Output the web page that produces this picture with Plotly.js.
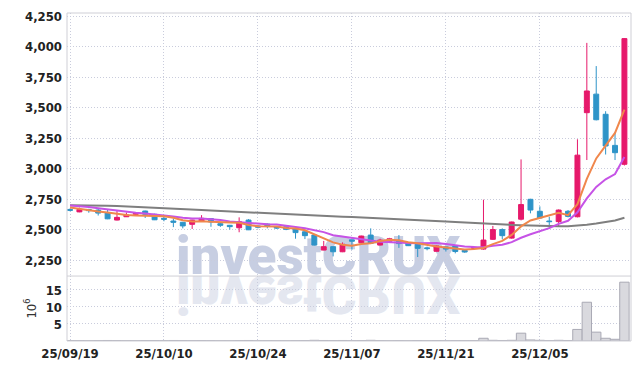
<!DOCTYPE html>
<html><head><meta charset="utf-8">
<script src="https://cdn.plot.ly/plotly-3.0.1.min.js"></script>
<style>html,body{margin:0;padding:0;background:#fff;} #chart{width:639px;height:370px;}</style>
</head><body><div id="chart"></div>
<script>
const dates = ["25/09/19","25/09/22","25/09/23","25/09/24","25/09/25","25/09/26","25/09/29","25/09/30","25/10/01","25/10/02",
"25/10/10","25/10/13","25/10/14","25/10/15","25/10/16","25/10/17","25/10/20","25/10/21","25/10/22","25/10/23",
"25/10/24","25/10/27","25/10/28","25/10/29","25/10/30","25/10/31","25/11/03","25/11/04","25/11/05","25/11/06",
"25/11/07","25/11/10","25/11/11","25/11/12","25/11/13","25/11/14","25/11/17","25/11/18","25/11/19","25/11/20",
"25/11/21","25/11/24","25/11/25","25/11/26","25/11/27","25/11/28","25/12/01","25/12/02","25/12/03","25/12/04",
"25/12/05","25/12/08","25/12/09","25/12/10","25/12/11","25/12/12","25/12/15","25/12/16","25/12/17","25/12/18"];

const openP = [2665,2645,2665,2660,2640,2578,2605,2625,2652,2625,
2592,2570,2560,2543,2568,2590,2548,2535,2515,2578,
2530,2545,2523,2523,2505,2482,2455,2332,2360,2318,
2416,2392,2455,2373,2405,2405,2390,2379,2350,2322,
2358,2366,2330,2345,2340,2420,2500,2430,2585,2748,
2650,2570,2565,2650,2605,3458,3610,3445,3190,3035];
const highP = [2672,2680,2670,2670,2665,2655,2640,2640,2655,2630,
2620,2590,2562,2580,2618,2592,2558,2538,2600,2586,
2535,2550,2528,2525,2510,2500,2460,2407,2362,2395,
2420,2450,2510,2425,2432,2455,2392,2382,2360,2370,
2362,2370,2335,2360,2745,2530,2510,2565,3075,2752,
2690,2605,2665,2660,3240,4030,3840,3470,3300,4070];
const lowP = [2650,2642,2638,2615,2585,2575,2603,2620,2595,2578,
2568,2520,2510,2505,2565,2523,2522,2500,2478,2496,
2510,2510,2505,2495,2425,2422,2370,2330,2280,2315,
2335,2390,2383,2370,2400,2350,2365,2275,2330,2320,
2320,2305,2310,2342,2335,2415,2420,2425,2575,2633,
2590,2510,2525,2600,2600,3070,3395,3115,3070,3025];
const closeP = [2658,2665,2655,2635,2588,2600,2620,2635,2625,2580,
2585,2560,2530,2578,2592,2562,2535,2524,2565,2498,
2520,2530,2512,2502,2475,2450,2373,2360,2318,2380,
2405,2447,2387,2414,2425,2385,2368,2346,2344,2366,
2340,2320,2316,2356,2414,2500,2450,2562,2705,2660,
2595,2565,2660,2608,3110,3636,3400,3185,3130,4065];

const ma5 = [2680,2668,2660,2648,2640,2629,2620,2616,2614,2612,
2609,2597,2576,2567,2569,2564,2559,2558,2556,2537,
2528,2527,2525,2512,2508,2494,2462,2432,2395,2376,
2367,2382,2387,2407,2416,2412,2396,2388,2374,2362,
2353,2343,2337,2340,2349,2381,2407,2456,2526,2575,
2594,2617,2637,2618,2708,2916,3083,3188,3292,3483];
const ma10 = [2697,2692,2685,2675,2665,2655,2645,2638,2632,2626,
2619,2608,2596,2590,2591,2587,2578,2567,2561,2553,
2546,2543,2542,2534,2522,2511,2495,2479,2454,2442,
2431,2422,2410,2401,2396,2389,2389,2388,2390,2389,
2382,2370,2362,2357,2356,2367,2375,2397,2433,2462,
2488,2512,2547,2572,2642,2755,2850,2912,2955,3095];
const ma60 = [2700,2700,2699,2697,2695,2693,2690,2687,2684,2680,
2676,2672,2668,2664,2660,2656,2652,2648,2644,2640,
2636,2633,2630,2627,2625,2622,2618,2614,2610,2606,
2603,2600,2597,2594,2590,2587,2583,2579,2575,2571,
2567,2563,2558,2554,2550,2546,2542,2538,2535,2532,
2530,2528,2528,2528,2532,2540,2550,2562,2575,2597];

const volume = [0.12,0.1,0.08,0.1,0.15,0.12,0.08,0.07,0.1,0.12,
0.1,0.15,0.12,0.1,0.12,0.1,0.08,0.08,0.12,0.15,
0.08,0.08,0.07,0.07,0.1,0.12,0.2,0.15,0.12,0.15,
0.1,0.12,0.2,0.1,0.08,0.1,0.08,0.12,0.08,0.1,
0.08,0.1,0.08,0.1,0.8,0.2,0.15,0.2,2.3,0.3,
0.2,0.1,0.2,0.15,3.4,11.4,2.6,0.8,0.5,17.3];

const xTicks = ["25/09/19","25/10/10","25/10/24","25/11/07","25/11/21","25/12/05"];
const priceTicks = [2250,2500,2750,3000,3250,3500,3750,4000,4250];
const volTicks = [5,10,15];

const tickFam = "'Liberation Sans Narrow','DejaVu Sans Condensed','Roboto Condensed','Liberation Sans',sans-serif";
const tickFont = {family:tickFam, size:13, color:'#222', weight:'bold'};
const gridCol = '#c9ccdc';
const gridDash = '1px,2px';

const data = [
  {type:'bar', x:dates, y:volume, xaxis:'x', yaxis:'y2',
   marker:{color:'#d9d9de', line:{color:'#a9a9b4', width:1}}, hoverinfo:'skip'},
  {type:'scatter', mode:'lines', x:dates, y:ma60, xaxis:'x', yaxis:'y',
   line:{color:'#7f7f7f', width:2}},
  {type:'scatter', mode:'lines', x:dates, y:ma10, xaxis:'x', yaxis:'y',
   line:{color:'#c653e6', width:2}},
  {type:'scatter', mode:'lines', x:dates, y:ma5, xaxis:'x', yaxis:'y',
   line:{color:'#f0874c', width:2}},
  {type:'candlestick', x:dates, open:openP, high:highP, low:lowP, close:closeP, xaxis:'x', yaxis:'y',
   increasing:{line:{color:'#e6196b', width:1}, fillcolor:'#e6196b'},
   decreasing:{line:{color:'#2e94c8', width:1}, fillcolor:'#2e94c8'},
   whiskerwidth:0}
];

const layout = {
  width:639, height:370,
  margin:{l:67, r:8, t:13, b:29},
  paper_bgcolor:'#fff', plot_bgcolor:'#fff',
  showlegend:false,
  boxgap:0.25,
  bargap:0,
  xaxis:{type:'category', anchor:'y2', range:[-0.32,59.7], rangeslider:{visible:false},
    tickvals:xTicks, ticktext:xTicks, tickfont:tickFont, showgrid:true, gridcolor:gridCol, griddash:gridDash,
    gridwidth:1, showline:false, zeroline:false, ticks:'', ticklabelstandoff:3},
  yaxis:{domain:[0.198,1], range:[2119,4275], tickvals:priceTicks, tickformat:',d', tickfont:tickFont,
    showgrid:true, gridcolor:gridCol, griddash:gridDash, zeroline:false, showline:false, ticks:'', ticklabelstandoff:4},
  yaxis2:{domain:[0,0.198], range:[0,19.1], tickvals:volTicks, tickfont:tickFont,
    showgrid:true, gridcolor:gridCol, griddash:gridDash, zeroline:false, showline:false, ticks:'', ticklabelstandoff:4,
    title:{text:'10<sup>6</sup>', font:{family:tickFam, size:13, color:'#333'}, standoff:6}},
  shapes:[
    {type:'rect', xref:'paper', yref:'paper', x0:0, x1:1, y0:0, y1:1, line:{color:'#cfcfd6', width:1}, layer:'above'},
    {type:'line', xref:'paper', yref:'paper', x0:0, x1:1, y0:0.198, y1:0.198, line:{color:'#cfcfd6', width:1}, layer:'above'}
  ],
  annotations:[
    {text:'investCRUX', xref:'paper', yref:'paper', x:0.445, y:0.16, xanchor:'center', yanchor:'bottom', showarrow:false,
     font:{family:"Roboto,'Liberation Sans',sans-serif", size:53, color:'#c7cee2', weight:900}},
    {text:'investCRUX', xref:'paper', yref:'paper', x:0.445, y:0.16, xanchor:'center', yanchor:'bottom', showarrow:false,
     font:{family:"Roboto,'Liberation Sans',sans-serif", size:53, color:'#e4e7f0', weight:900}}
  ]
};

Plotly.newPlot('chart', data, layout, {staticPlot:true}).then(function(gd){
  const below = gd.querySelector('.layer-below');
  const anns = Array.from(gd.querySelectorAll('.infolayer .annotation'));
  if (!below || anns.length < 2) return;
  const svg = below.ownerSVGElement;
  const sr = svg.getBoundingClientRect();
  anns.forEach(function(a){ below.appendChild(a); });
  const r = anns[0].querySelector('text').getBoundingClientRect();
  const base = (r.top - sr.top) + r.height * 0.79 + 1;
  const wrap = document.createElementNS('http://www.w3.org/2000/svg', 'g');
  below.appendChild(wrap);
  wrap.appendChild(anns[1]);
  wrap.setAttribute('transform', 'translate(0,' + (2 * base) + ') scale(1,-1)');
});
</script></body></html>
